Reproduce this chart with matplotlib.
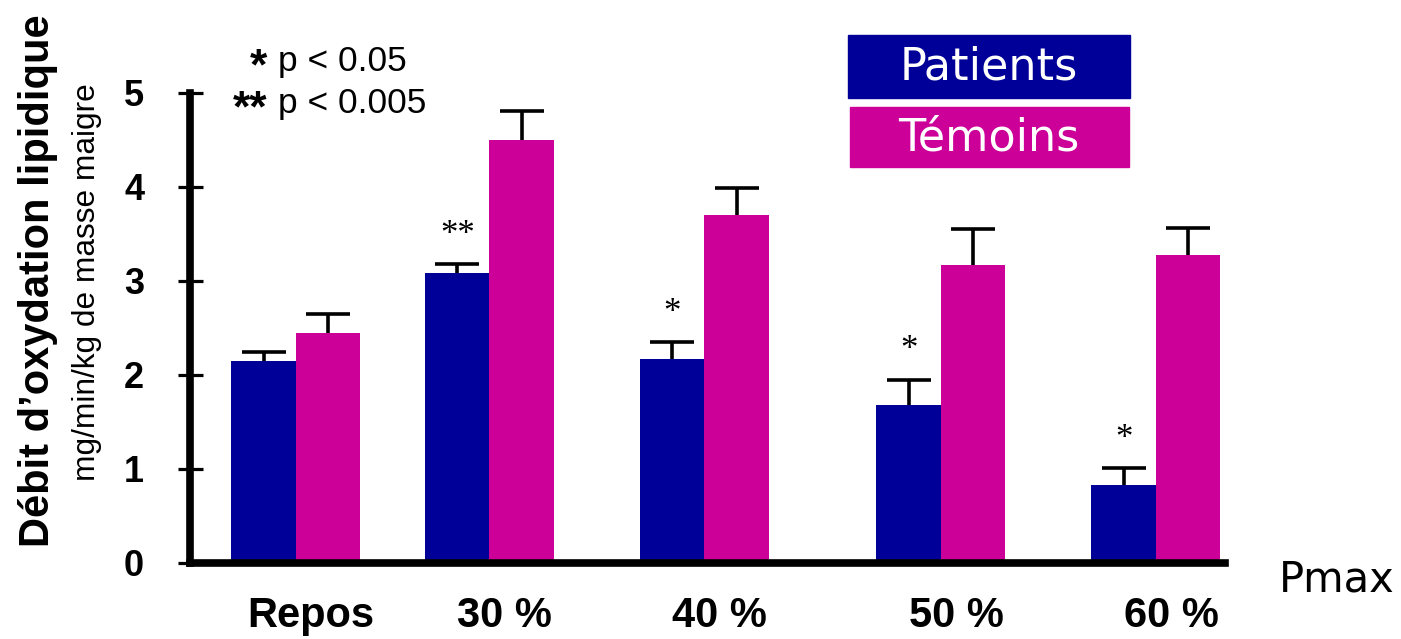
import matplotlib
matplotlib.use("Agg")
import matplotlib.pyplot as plt
from matplotlib.patches import Rectangle
import numpy as np

# Lipid oxidation rate (mg/min/kg lean mass) by exercise intensity
categories = ["Repos", "30 %", "40 %", "50 %", "60 %"]
patients = [2.15, 3.08, 2.17, 1.68, 0.83]
patients_err = [0.09, 0.10, 0.18, 0.27, 0.18]
temoins = [2.45, 4.50, 3.70, 3.17, 3.28]
temoins_err = [0.20, 0.31, 0.29, 0.38, 0.28]
significance = ["", "**", "*", "*", "*"]

BLUE = "#000099"
MAGENTA = "#CC0099"

# group spacing along the x axis (uneven, as laid out on the slide)
group_x = np.array([0.0, 0.9, 1.9, 3.0, 4.0])
bar_w = 0.30

fig = plt.figure(figsize=(14.01, 6.39), dpi=100)
W, H = 1401, 639
ax = fig.add_axes([190 / W, 1 - 563 / H, (1225 - 190) / W, (563 - 93) / H])

ax.bar(group_x - bar_w / 2, patients, bar_w, color=BLUE, linewidth=0, zorder=2)
ax.bar(group_x + bar_w / 2, temoins, bar_w, color=MAGENTA, linewidth=0, zorder=2)

err_style = dict(fmt="none", ecolor="black", elinewidth=2.6, capsize=16,
                 capthick=2.6, zorder=1)
for xs, vals, errs in ((group_x - bar_w / 2, patients, patients_err),
                       (group_x + bar_w / 2, temoins, temoins_err)):
    eb = ax.errorbar(xs, vals, yerr=[np.zeros(len(vals)), errs], **err_style)
    # only the upper whisker is shown; drop the cap sitting on the bar top
    eb[1][0].set_visible(False)

# significance stars over the patient bars
for x, v, e, s in zip(group_x - bar_w / 2, patients, patients_err, significance):
    if s:
        ax.annotate(s, (x, v + e), xytext=(0, 9), textcoords="offset points",
                    ha="center", va="bottom", fontsize=25,
                    family="Liberation Serif")

ax.set_xlim(-0.493, 4.321)
ax.set_ylim(0, 5)
ax.set_yticks(range(6))
ax.set_xticks(group_x + 0.07)
ax.set_xticklabels(categories)

for side in ("top", "right"):
    ax.spines[side].set_visible(False)
for side in ("left", "bottom"):
    ax.spines[side].set_linewidth(5.5)
    ax.spines[side].set_capstyle("projecting")

ax.tick_params(axis="y", direction="inout", length=18, width=2.3, pad=24,
               labelsize=26)
ax.tick_params(axis="x", length=0, pad=24, labelsize=30)
for lab in ax.get_xticklabels() + ax.get_yticklabels():
    lab.set_fontweight("bold")
    lab.set_family("Liberation Sans")

# axis titles
fig.text(38 / W, 1 - 281 / H, "Débit d’oxydation lipidique", rotation=90,
         ha="center", va="center", fontsize=30, fontweight="bold",
         family="Liberation Sans")
fig.text(87 / W, 1 - 282 / H, "mg/min/kg de masse maigre", rotation=90,
         ha="center", va="center", fontsize=22.8, family="Liberation Sans")

# p-value key
key_rows = [("*", "p < 0.05", 62), ("**", "p < 0.005", 104)]
for stars, txt, yy in key_rows:
    fig.text(267 / W, 1 - (yy + 17) / H, stars, ha="right", va="baseline",
             fontsize=32, fontweight="bold", family="Liberation Sans")
    fig.text(278 / W, 1 - yy / H, txt, ha="left", va="center",
             fontsize=25.5, family="Liberation Sans")

# legend boxes
fig.patches.append(Rectangle((848 / W, 1 - 98 / H), 282 / W, 63 / H,
                             transform=fig.transFigure, color=BLUE))
fig.patches.append(Rectangle((850 / W, 1 - 167 / H), 279 / W, 60 / H,
                             transform=fig.transFigure, color=MAGENTA))
fig.text(989 / W, 1 - 67 / H, "Patients", ha="center", va="center",
         color="white", fontsize=32, family="DejaVu Sans")
fig.text(989 / W, 1 - 138 / H, "Témoins", ha="center", va="center",
         color="white", fontsize=32, family="DejaVu Sans")

fig.text(1337 / W, 1 - 580 / H, "Pmax", ha="center", va="center",
         fontsize=30, family="DejaVu Sans")

fig.savefig("out.png", dpi=100)
